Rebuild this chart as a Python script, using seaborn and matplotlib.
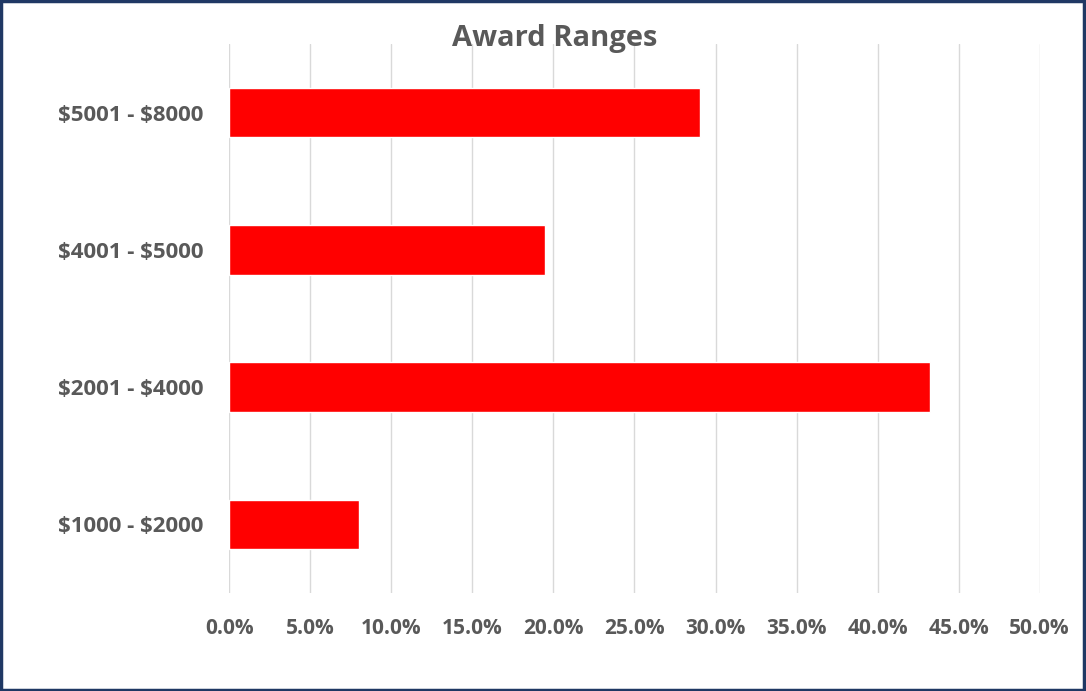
import matplotlib
matplotlib.use("Agg")
import matplotlib.pyplot as plt
import seaborn as sns
import pandas as pd
from matplotlib.ticker import PercentFormatter, MultipleLocator
from matplotlib.patches import Rectangle

# Daten
ranges = ["$5001 - $8000", "$4001 - $5000", "$2001 - $4000", "$1000 - $2000"]
shares = [29.05, 19.45, 43.25, 8.0]

df = pd.DataFrame({"range": ranges, "share": shares})

sns.set_style("white")
plt.rcParams['font.family'] = ['Open Sans', 'DejaVu Sans']
plt.rcParams['text.parse_math'] = False

fig = plt.figure(figsize=(10.86, 6.91), dpi=100)
ax = fig.add_axes([0.2113, 0.1418, 0.7459, 0.7945])

sns.barplot(data=df, x="share", y="range", color="#FF0000", width=0.36,
            saturation=1, ax=ax, orient="h")

ax.set_xlim(0, 50)
ax.xaxis.set_major_locator(MultipleLocator(5))
ax.xaxis.set_major_formatter(PercentFormatter(decimals=1))
ax.grid(axis="x", color="#D9D9D9", linewidth=1.0)
ax.set_axisbelow(True)
for s in ax.spines.values():
    s.set_visible(False)

ax.tick_params(axis="both", length=0, labelcolor="#595959")
ax.tick_params(axis="x", pad=18, labelsize=15)
ax.tick_params(axis="y", pad=19, labelsize=16)
for lbl in ax.get_xticklabels() + ax.get_yticklabels():
    lbl.set_fontweight("bold")
ax.set_xlabel("")
ax.set_ylabel("")

fig.text(0.511, 0.945, "Award Ranges", ha="center", va="center",
         fontsize=21, fontweight="bold", color="#595959")

# Rahmen
fig.patches.append(Rectangle((0.001, 0.002), 0.997, 0.996, transform=fig.transFigure,
                             fill=False, edgecolor="#1F3864", linewidth=2.5))

fig.savefig("out.png", dpi=100)
